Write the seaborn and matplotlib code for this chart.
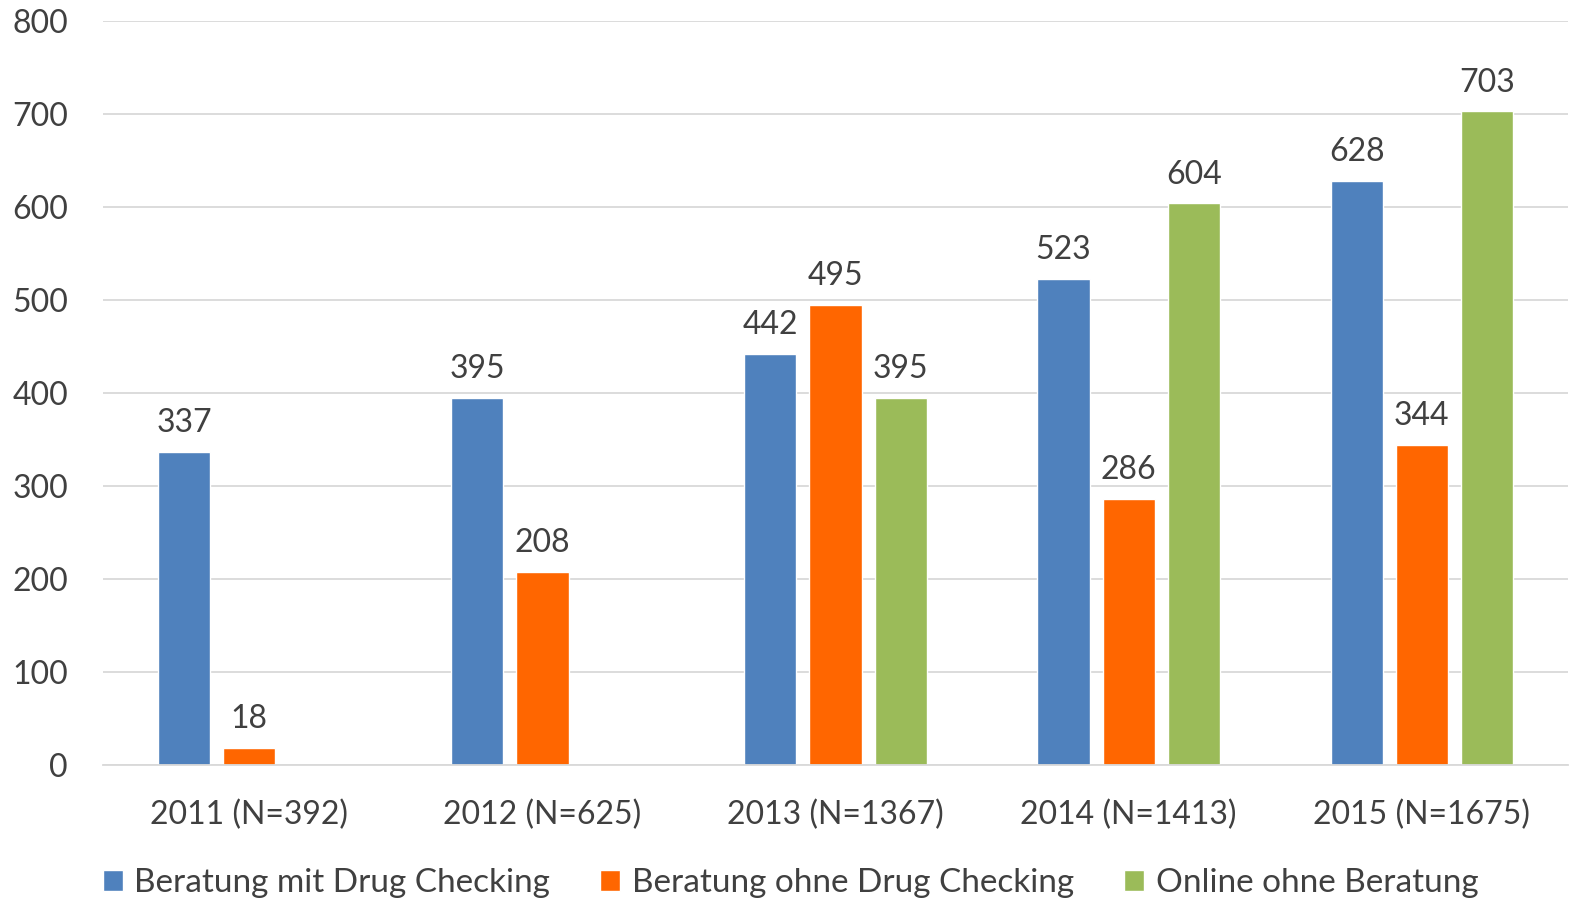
import numpy as np
import pandas as pd
import seaborn as sns
import matplotlib.pyplot as plt
from matplotlib.patches import Patch

years = ['2011 (N=392)', '2012 (N=625)', '2013 (N=1367)', '2014 (N=1413)', '2015 (N=1675)']
series = ['Beratung mit Drug Checking', 'Beratung ohne Drug Checking', 'Online ohne Beratung']
mit_dc = [337, 395, 442, 523, 628]
ohne_dc = [18, 208, 495, 286, 344]
online = [np.nan, np.nan, 395, 604, 703]
colors = ['#4F81BD', '#FF6600', '#9BBB59']

rows = []
for name, vals in zip(series, [mit_dc, ohne_dc, online]):
    for y, v in zip(years, vals):
        rows.append((y, name, v))
df = pd.DataFrame(rows, columns=['Jahr', 'Gruppe', 'Anzahl'])

sns.set_style('white')
plt.rcParams['font.family'] = ['Lato', 'DejaVu Sans']
txt = '#404040'
fs = 23

fig = plt.figure(figsize=(15.81, 9.07), dpi=100)
ax = fig.add_axes([0.065, 0.1566, 0.927, 0.82])

sns.barplot(data=df, x='Jahr', y='Anzahl', hue='Gruppe', hue_order=series,
            palette=colors, width=0.667, gap=0.2, saturation=1, ax=ax,
            legend=False)

for cont in ax.containers:
    ax.bar_label(cont, fmt='%d', padding=10, fontsize=fs, color=txt)

ax.set_ylim(0, 800)
ax.set_xlim(-0.5, 4.5)
ax.set_yticks(range(0, 801, 100))
ax.yaxis.grid(True, color='#D9D9D9', linewidth=1.3)
ax.set_axisbelow(True)
for s in ['top', 'right', 'left']:
    ax.spines[s].set_visible(False)
ax.spines['bottom'].set_color('#D9D9D9')
ax.spines['bottom'].set_linewidth(1.3)
ax.tick_params(axis='both', length=0, labelsize=fs, labelcolor=txt)
ax.tick_params(axis='x', pad=25)
ax.tick_params(axis='y', pad=25)
ax.set_xlabel('')
ax.set_ylabel('')

handles = [Patch(facecolor=c, label=s) for c, s in zip(colors, series)]
fig.legend(handles=handles, loc='center', bbox_to_anchor=(0.5, 0.026),
           ncol=3, frameon=False, fontsize=24, labelcolor=txt,
           handlelength=0.6, handleheight=0.6, handletextpad=0.35,
           columnspacing=1.5)

fig.savefig('out.png', dpi=100)
